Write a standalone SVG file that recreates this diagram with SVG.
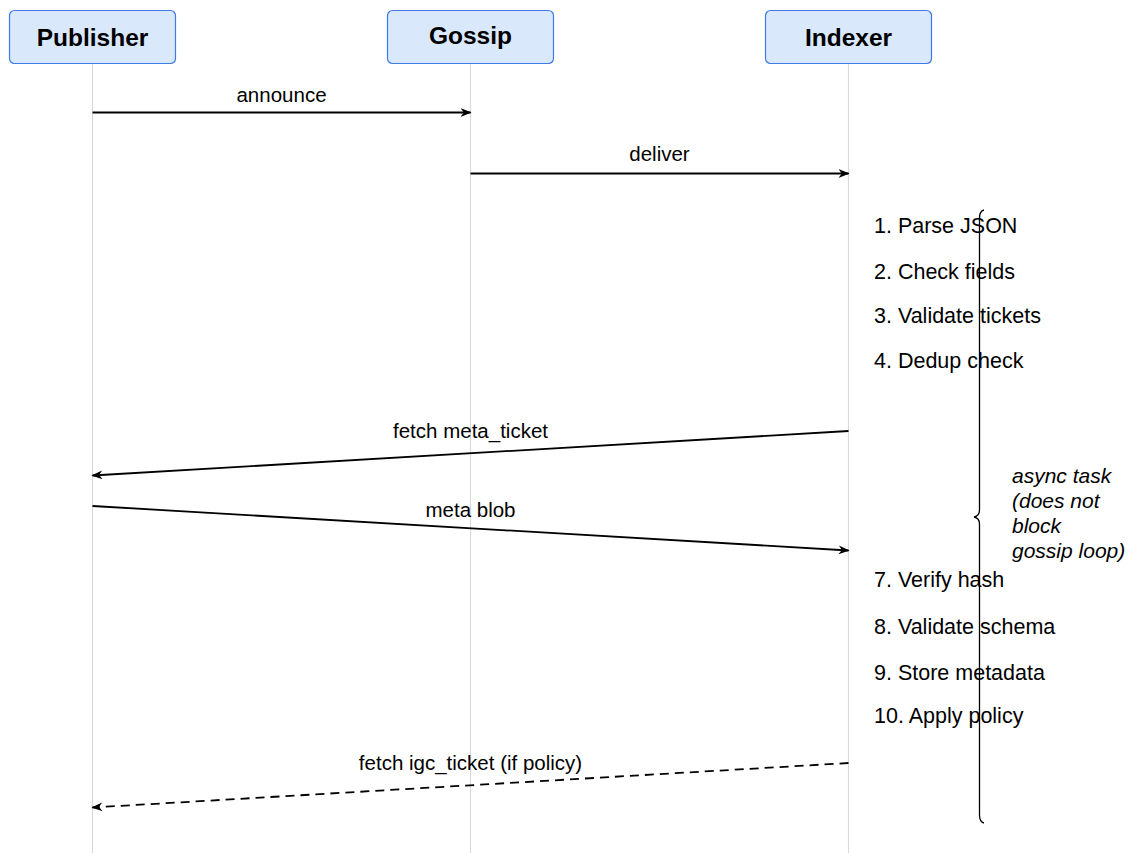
<svg xmlns="http://www.w3.org/2000/svg" width="1128" height="853" viewBox="0 0 1128 853">
<defs>
<style>
.box{fill:#dae8fc;stroke:#3d7ae6;stroke-width:1.2}
.title{font-family:"Liberation Sans",Arial,sans-serif;font-weight:bold;font-size:24.5px;text-anchor:middle;fill:#000}
.life{stroke:#d9d9d9;stroke-width:1.2}
.msg{stroke:#000;stroke-width:1.8;fill:none;marker-end:url(#ah)}
.dash{stroke-dasharray:9,6}
.lbl{font-family:"Liberation Sans",Arial,sans-serif;font-size:20.5px;text-anchor:middle;fill:#000}
.step{font-family:"Liberation Sans",Arial,sans-serif;font-size:21.5px;fill:#000}
.note{font-family:"Liberation Sans",Arial,sans-serif;font-size:21px;font-style:italic;fill:#000}
.brace{stroke:#000;stroke-width:1.3;fill:none}
</style>
<marker id="ah" viewBox="0 0 10 8" refX="9" refY="4" markerWidth="11" markerHeight="9" markerUnits="userSpaceOnUse" orient="auto">
<path d="M0,0 L10,4 L0,8 L3,4 Z" fill="#000"/>
</marker>
</defs>
<rect width="1128" height="853" fill="#fff"/>
<g id="lifelines">
<line class="life" x1="92.5" y1="63" x2="92.5" y2="853"/>
<line class="life" x1="470.5" y1="63" x2="470.5" y2="853"/>
<line class="life" x1="848.5" y1="63" x2="848.5" y2="853"/>
</g>
<g id="publisher">
<rect class="box" x="9.5" y="10.5" width="166" height="53" rx="5"/>
<text class="title" x="92.5" y="46">Publisher</text>
</g>
<g id="gossip">
<rect class="box" x="387.5" y="10.5" width="166" height="53" rx="5"/>
<text class="title" x="470.5" y="44">Gossip</text>
</g>
<g id="indexer">
<rect class="box" x="765.5" y="10.5" width="166" height="53" rx="5"/>
<text class="title" x="848.5" y="46">Indexer</text>
</g>
<g id="connectors">
<line class="msg" x1="92.5" y1="112.5" x2="470.5" y2="112.5"/>
<text class="lbl" x="281.5" y="102">announce</text>
<line class="msg" x1="470.5" y1="173.5" x2="848.5" y2="173.5"/>
<text class="lbl" x="659.5" y="161">deliver</text>
<line class="msg" x1="848.5" y1="431" x2="92.5" y2="475.5"/>
<text class="lbl" x="470.5" y="438">fetch meta_ticket</text>
<line class="msg" x1="92.5" y1="506" x2="848.5" y2="550.5"/>
<text class="lbl" x="470.5" y="517">meta blob</text>
<line class="msg dash" x1="848.5" y1="763" x2="92.5" y2="807.5"/>
<text class="lbl" x="470.5" y="770">fetch igc_ticket (if policy)</text>
</g>
<g id="steps">
<text class="step" x="874" y="233">1. Parse JSON</text>
<text class="step" x="874" y="279">2. Check fields</text>
<text class="step" x="874" y="323">3. Validate tickets</text>
<text class="step" x="874" y="368">4. Dedup check</text>
<text class="step" x="874" y="587">7. Verify hash</text>
<text class="step" x="874" y="634">8. Validate schema</text>
<text class="step" x="874" y="680">9. Store metadata</text>
<text class="step" x="874" y="723">10. Apply policy</text>
</g>
<g id="async-brace">
<path class="brace" d="M984,210 Q979.5,211 979.5,218 L979.5,510 Q979.5,516 974,517 Q979.5,518 979.5,524 L979.5,815 Q979.5,822 984,823"/>
<text class="note" x="1012" y="483">async task</text>
<text class="note" x="1012" y="508">(does not</text>
<text class="note" x="1012" y="533">block</text>
<text class="note" x="1012" y="558">gossip loop)</text>
</g>
</svg>
